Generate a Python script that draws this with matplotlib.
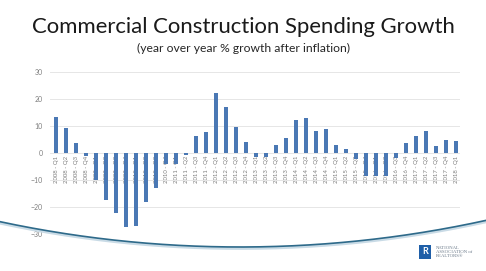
import matplotlib
matplotlib.use("Agg")
import matplotlib.pyplot as plt
import numpy as np
from matplotlib.patches import Rectangle

plt.rcParams["font.family"] = ["Lato", "DejaVu Sans"]

# data
years = [2008, 2009, 2010, 2011, 2012, 2013, 2014, 2015, 2016, 2017, 2018]
quarters = ["Q1", "Q2", "Q3", "Q4"]
labels = [f"{y} - {q}" for y in years for q in quarters][:41]
growth = [
    13.4, 9.4, 3.6, -1.0,
    -10.0, -17.4, -22.2, -27.3,
    -26.9, -18.3, -13.0, -4.0,
    -4.0, -0.8, 6.3, 7.9,
    22.3, 17.1, 9.5, 4.1,
    -1.5, -1.5, 3.1, 5.6,
    12.3, 13.0, 8.0, 8.8,
    3.0, 1.4, -2.2, -8.5,
    -8.7, -8.5, -2.0, 3.6,
    6.3, 8.3, 2.6, 4.8,
    4.3,
]
y_ticks = [-30, -20, -10, 0, 10, 20, 30]

W, H = 486, 271
fig = plt.figure(figsize=(W / 100, H / 100), dpi=100)
fig.patch.set_facecolor("white")

# axes placed to match the slide
ax = fig.add_axes([50 / W, 1 - 234 / H, 410 / W, 162 / H])
x = np.arange(len(growth))
ax.bar(x, growth, width=0.4, color="#4a78b4", zorder=1)
ax.set_xlim(-0.6, len(growth) - 0.6)
ax.set_ylim(-30, 30)
ax.set_yticks(y_ticks)
ax.yaxis.grid(True, color="#e6e6e6", linewidth=0.7, zorder=0)
ax.set_axisbelow(True)
for s in ax.spines.values():
    s.set_visible(False)
ax.spines["bottom"].set_position(("data", 0))
ax.set_xticks(x)
ax.set_xticklabels(labels, rotation=90, fontsize=4.3, color="#7f7f7f", va="top")
ax.tick_params(axis="x", length=0, pad=2)
ax.tick_params(axis="y", length=0, pad=5, labelsize=5, labelcolor="#7f7f7f")

# titles
fig.text(0.5, 1 - 33 / H, "Commercial Construction Spending Growth",
         ha="center", va="baseline", fontsize=15.9, color="#1a1a1a")
fig.text(0.5, 1 - 52 / H, "(year over year % growth after inflation)",
         ha="center", va="baseline", fontsize=8.7, color="#262626")

# decorative slide arc
px = np.linspace(0, W, 300)
R = 1150
py = 247 - (R - np.sqrt(R ** 2 - (px - 240) ** 2))
fig.add_artist(plt.Line2D(px / W, 1 - (py + 1.5) / H, color="#c9dbe6",
                          linewidth=2.0, transform=fig.transFigure))
fig.add_artist(plt.Line2D(px / W, 1 - py / H, color="#2e6a8a",
                          linewidth=1.2, transform=fig.transFigure))

# logo
fig.add_artist(Rectangle((419 / W, 1 - 259 / H), 12 / W, 14 / H,
                         facecolor="#1f5fa8", transform=fig.transFigure))
fig.text(425 / W, 1 - 252 / H, "R", ha="center", va="center",
         fontsize=6.5, color="white", fontweight="bold")
fig.text(436 / W, 1 - 252 / H, "NATIONAL\nASSOCIATION of\nREALTORS\u00ae",
         ha="left", va="center", fontsize=3.4, color="#6b7a8a",
         family=["Liberation Serif", "DejaVu Serif"], linespacing=1.0)

fig.savefig("out.png", dpi=100, facecolor="white")
